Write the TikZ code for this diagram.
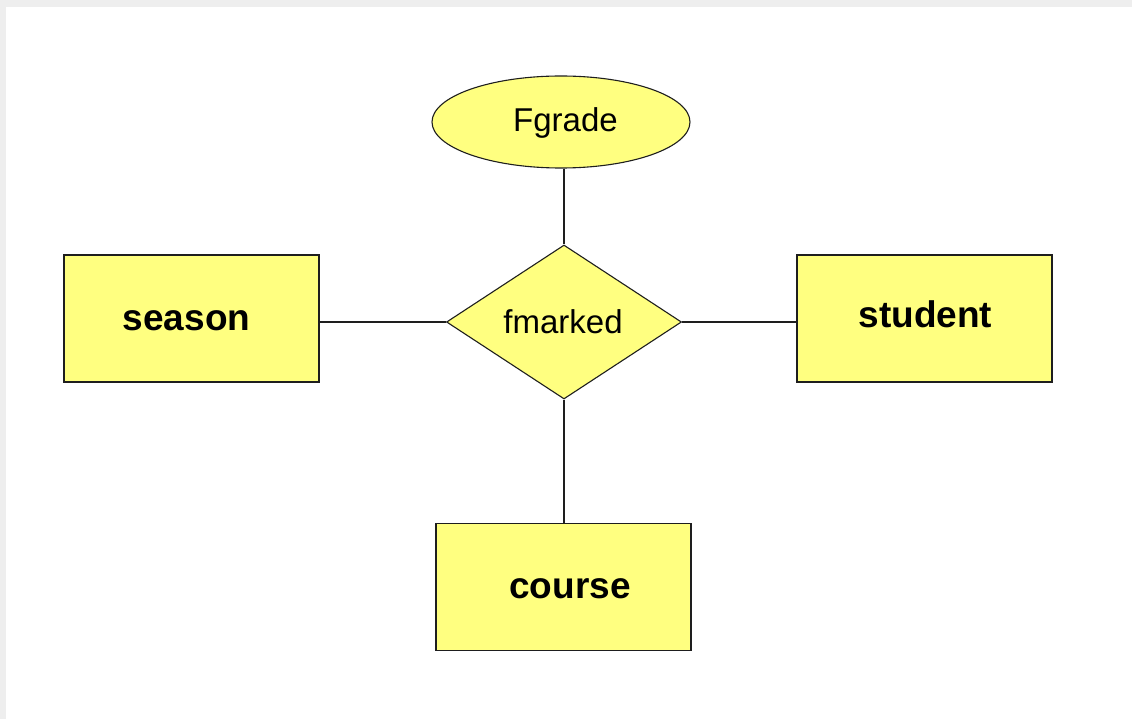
\documentclass[tikz,border=0pt]{standalone}
\usepackage{fontspec}
\setmainfont{Liberation Sans}
\usetikzlibrary{shapes.geometric}
\definecolor{erfill}{HTML}{FFFF80}
\definecolor{erline}{HTML}{1E1E1E}
\definecolor{frame}{HTML}{EEEEEE}
\tikzset{
  entity/.style={draw=erline, fill=erfill, line width=1.1pt, rectangle,
                 minimum width=255pt, minimum height=127pt, inner sep=0pt},
  relation/.style={draw=erline, fill=erfill, line width=1.1pt, diamond,
                 minimum width=235pt, minimum height=154pt, inner sep=0pt},
  attribute/.style={draw=erline, fill=erfill, line width=1.1pt, ellipse,
                 minimum width=258pt, minimum height=92pt, inner sep=0pt},
  link/.style={draw=erline, line width=1.1pt},
  boldlbl/.style={anchor=base, inner sep=0pt, font=\fontsize{37}{40}\selectfont\bfseries},
  plainlbl/.style={anchor=base, inner sep=0pt, font=\fontsize{33}{36}\selectfont}
}
\begin{document}
\begin{tikzpicture}[x=1pt, y=-1pt]
  % canvas with a light grey strip along the top and left edges
  \fill[frame] (0,0) rectangle (1132,719);
  \fill[white] (6,7) rectangle (1132,719);
  \useasboundingbox (0,0) rectangle (1132,719);

  % shapes
  \node[attribute] (fgrade) at (561,122) {};
  \node[relation]  (fmarked) at (564,322) {};
  \node[entity]    (season) at (191.5,318.5) {};
  \node[entity]    (student) at (924.5,318.5) {};
  \node[entity]    (course) at (563.5,587) {};

  % labels
  \node[plainlbl] (fgradelbl) at (565.5,132) {Fgrade};
  \node[plainlbl] (fmarkedlbl) at (563,333) {fmarked};
  \node[boldlbl]  (seasonlbl) at (186.5,330) {season};
  \node[boldlbl]  (studentlbl) at (925.5,327) {student};
  \node[boldlbl]  (courselbl) at (570,598) {course};

  % connectors, kept straight
  \draw[link] (fgrade.south -| fmarked.north) -- (fmarked.north);
  \draw[link] (fmarked.west) -- (fmarked.west -| season.east);
  \draw[link] (fmarked.east) -- (fmarked.east -| student.west);
  \draw[link] (fmarked.south) -- (fmarked.south |- course.north);
\end{tikzpicture}
\end{document}
